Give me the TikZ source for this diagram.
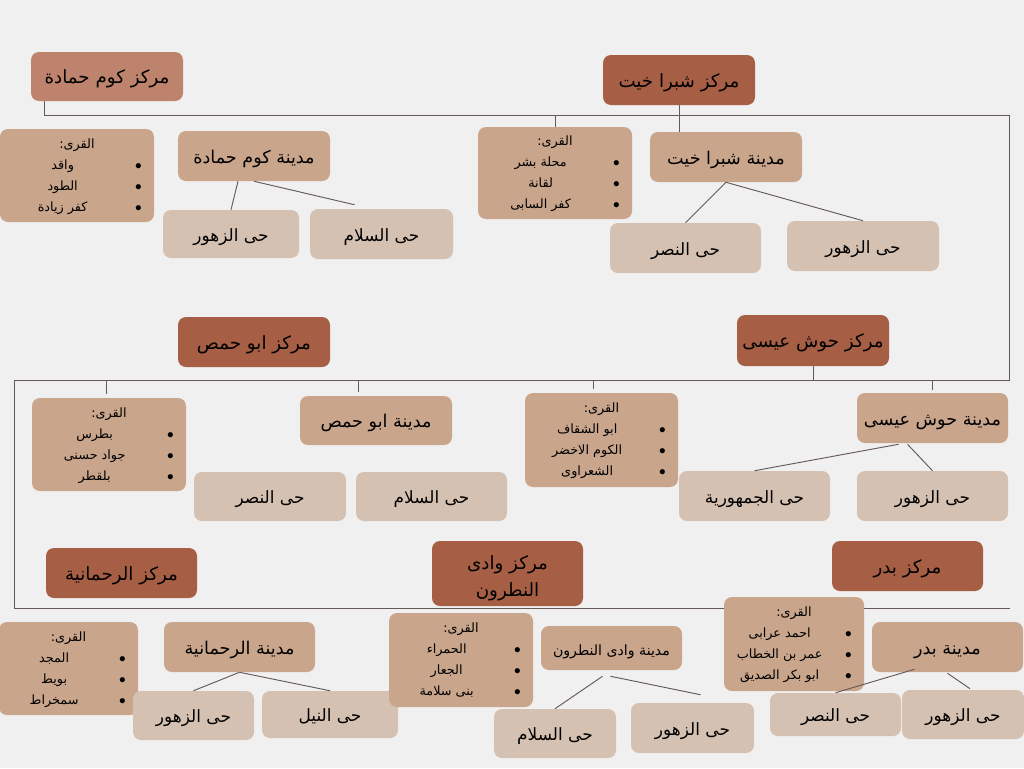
\documentclass[tikz,border=0pt]{standalone}
\usepackage{fontspec}
\usepackage{array}
\newfontfamily\arabicfont[Script=Arabic]{DejaVu Sans}
\TeXXeTstate=1
\usetikzlibrary{calc, backgrounds}
\definecolor{bgcol}{HTML}{F0F0F0}
\definecolor{markaz}{HTML}{A65F45}
\definecolor{markazlt}{HTML}{BD836C}
\definecolor{madina}{HTML}{C9A58C}
\definecolor{hay}{HTML}{D5C1B1}
\definecolor{linecol}{HTML}{655955}
\newcommand{\artxt}[1]{{\arabicfont\beginR #1\endR}}
\newcommand{\qlist}[4]{{\def\arraystretch{1.43}%
\begin{tabular}{@{}>{\centering\arraybackslash}p{#1}@{\hspace{7.25pt}}c@{\hspace{9.25pt}}}
\multicolumn{2}{@{}c@{}}{\artxt{القرى:}}\\
#2 & $\bullet$\\
#3 & $\bullet$\\
#4 & $\bullet$
\end{tabular}}}

\begin{document}
\begin{tikzpicture}[x=0.75pt, y=-0.75pt,
  box/.style={rounded corners=6pt, inner sep=2pt, align=center},
  lowtext/.style={text height=1.05em, text depth=0pt},
  sz/.style 2 args={minimum width=#1*0.75pt, minimum height=#2*0.75pt},
  markazbox/.style={box, lowtext, fill=markaz, font=\fontsize{13.7}{20}\selectfont},
  madinabox/.style={box, lowtext, fill=madina, font=\fontsize{13.2}{15}\selectfont},
  haybox/.style={box, lowtext, fill=hay, font=\fontsize{12.7}{15}\selectfont},
  qurabox/.style={box, fill=madina, inner sep=0pt, font=\fontsize{9.6}{11}\selectfont},
  link/.style={draw=linecol, line width=0.7pt}]
\useasboundingbox (0,0) rectangle (1024,768);

% kom hamada - shubra khit
\node [markazbox, fill=markazlt, sz={152}{49}] (khc) at (107,76.5) {\artxt{مركز كوم حمادة}};
\node [markazbox, sz={152}{50}] (shc) at (679,80) {\artxt{مركز شبرا خيت}};
\node [qurabox, sz={152}{93}] (khq) at (77,175.5) {\qlist{94pt}{\artxt{واقد}}{\artxt{الطود}}{\artxt{كفر زيادة}}};
\node [madinabox, sz={152}{50}] (khcity) at (254,156) {\artxt{مدينة كوم حمادة}};
\node [haybox, sz={136}{48}] (khz) at (231,234) {\artxt{حى الزهور}};
\node [haybox, sz={143}{50}] (khs) at (381.5,234) {\artxt{حى السلام}};
\node [qurabox, sz={152}{92}] (shq) at (555,173) {\qlist{94pt}{\artxt{محلة بشر}}{\artxt{لقانة}}{\artxt{كفر السابى}}};
\node [madinabox, sz={152}{50}] (shcity) at (726,157) {\artxt{مدينة شبرا خيت}};
\node [haybox, sz={151}{50}] (shn) at (685.5,248) {\artxt{حى النصر}};
\node [haybox, sz={152}{50}] (shz) at (863,246) {\artxt{حى الزهور}};

% abu hommos - hosh eisa
\node [markazbox, sz={152}{50}] (ahc) at (254,342) {\artxt{مركز ابو حمص}};
\node [markazbox, sz={152}{51}] (hec) at (813,340.5) {\artxt{مركز حوش عيسى}};
\node [qurabox, sz={152}{93}] (ahq) at (109,444.5) {\qlist{94pt}{\artxt{بطرس}}{\artxt{جواد حسنى}}{\artxt{بلقطر}}};
\node [madinabox, sz={152}{49}] (ahcity) at (376,420.5) {\artxt{مدينة ابو حمص}};
\node [haybox, sz={152}{49}] (ahn) at (270,496.5) {\artxt{حى النصر}};
\node [haybox, sz={151}{49}] (ahs) at (431.5,496.5) {\artxt{حى السلام}};
\node [qurabox, sz={151}{94}] (heq) at (601.5,440) {\qlist{93.25pt}{\artxt{ابو الشقاف}}{\artxt{الكوم الاخضر}}{\artxt{الشعراوى}}};
\node [madinabox, sz={151}{50}] (hecity) at (932.5,418) {\artxt{مدينة حوش عيسى}};
\node [haybox, sz={151}{50}] (hej) at (754.5,496) {\artxt{حى الجمهورية}};
\node [haybox, sz={151}{50}] (hez) at (932.5,496) {\artxt{حى الزهور}};

% rahmaniya - wadi natrun - badr
\node [markazbox, sz={151}{50}] (rhc) at (121.5,573) {\artxt{مركز الرحمانية}};
\node [markazbox, sz={151}{65}, text height=34pt] (wnc) at (507.5,573.5) {\artxt{مركز وادى}\\\artxt{النطرون}};
\node [markazbox, sz={151}{50}] (bdc) at (907.5,566) {\artxt{مركز بدر}};
\node [qurabox, sz={137}{93}] (rhq) at (68.5,668.5) {\qlist{82.75pt}{\artxt{المجد}}{\artxt{بويط}}{\artxt{سمخراط}}};
\node [madinabox, sz={151}{50}] (rhcity) at (239.5,647) {\artxt{مدينة الرحمانية}};
\node [haybox, sz={121}{49}] (rhz) at (193.5,715.5) {\artxt{حى الزهور}};
\node [haybox, sz={136}{47}] (rhn) at (330,714.5) {\artxt{حى النيل}};
\node [qurabox, sz={142}{94}] (wnq) at (461,660) {\qlist{86.5pt}{\artxt{الحمراء}}{\artxt{الجعار}}{\artxt{بنى سلامة}}};
\node [madinabox, sz={141}{44}, font=\fontsize{10.6}{12}\selectfont] (wncity) at (611.5,648) {\artxt{مدينة وادى النطرون}};
\node [haybox, sz={122}{49}] (wns) at (555,733.5) {\artxt{حى السلام}};
\node [haybox, sz={123}{50}] (wnz) at (692.5,728) {\artxt{حى الزهور}};
\node [qurabox, sz={138}{94}] (bdq) at (794,644) {\qlist{83.5pt}{\artxt{احمد عرابى}}{\artxt{عمر بن الخطاب}}{\artxt{ابو بكر الصديق}}};
\node [madinabox, sz={151}{50}] (bdcity) at (947.5,647) {\artxt{مدينة بدر}};
\node [haybox, sz={131}{43}] (bdn) at (835.5,714.5) {\artxt{حى النصر}};
\node [haybox, sz={122}{49}] (bdz) at (963,714.5) {\artxt{حى الزهور}};

\begin{scope}[on background layer]
\fill [bgcol] (0,0) rectangle (1024,768);
\coordinate (e1) at (1009,115);
\coordinate (mid) at (14,380);
\coordinate (e2) at (1010,608);
\draw [link] ($(khc.south west)+(14,0)$) |- (e1) |- (mid) |- (e2);
\draw [link] (shc.south) -- (shc.south |- shcity.north);
\draw [link] (shq.north |- e1) -- (shq.north);
\draw [link] ($(ahq.north |- mid)+(-3,0)$) -- ($(ahq.north)+(-3,-4)$);
\draw [link] ($(ahcity.north |- mid)+(-18,0)$) -- ($(ahcity.north)+(-18,-4)$);
\draw [link] (hec.south) -- (hec.south |- mid);
\draw [link] ($(heq.north |- mid)+(-8,0)$) -- ($(heq.north)+(-8,-4)$);
\draw [link] (hecity.north |- mid) -- ($(hecity.north)+(0,-3)$);
\end{scope}

% city to quarters
\draw [link] ($(khcity.south)+(-16,0)$) -- (khz.north);
\draw [link] (khcity.south) -- ($(khs.north)+(-27,-4)$);
\draw [link] (shcity.south) -- (shn.north);
\draw [link] (shcity.south) -- (shz.north);
\draw [link] ($(hecity.south)+(-34,1)$) -- (hej.north);
\draw [link] ($(hecity.south)+(-25,1)$) -- (hez.north);
\draw [link] (rhcity.south) -- (rhz.north);
\draw [link] (rhcity.south) -- (rhn.north);
\draw [link] ($(wncity.south)+(-9,6)$) -- (wns.north);
\draw [link] ($(wncity.south)+(-1,6)$) -- ($(wnz.north)+(8,-8)$);
\draw [link] ($(bdcity.south)+(-33,-3)$) -- (bdn.north);
\draw [link] ($(bdcity.south)+(0,1)$) -- ($(bdz.north)+(7,-1)$);
\end{tikzpicture}
\end{document}
